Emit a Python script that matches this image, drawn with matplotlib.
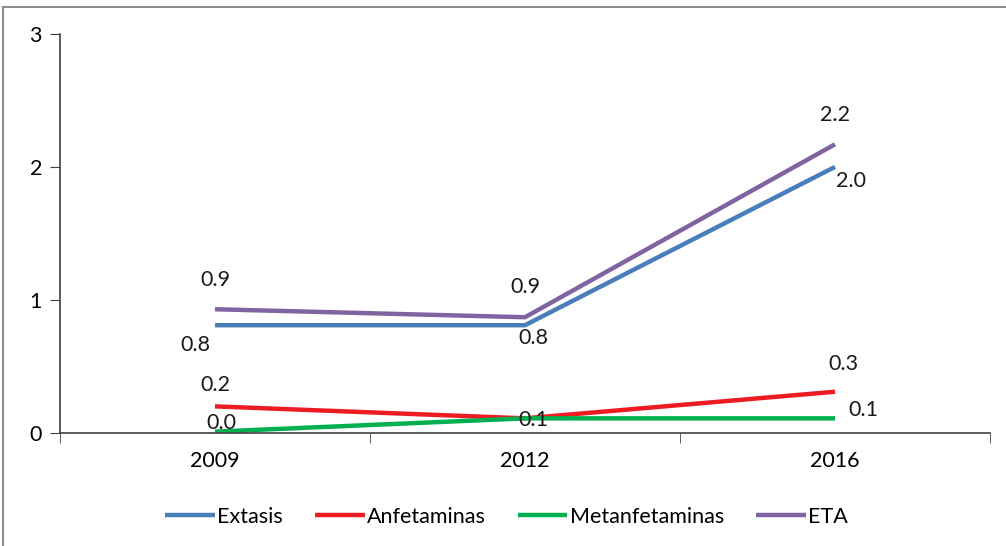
import matplotlib

matplotlib.use("Agg")

import matplotlib.pyplot as plt
from matplotlib.patches import Rectangle

years = ["2009", "2012", "2016"]
extasis = [0.81, 0.81, 2.0]
anfetaminas = [0.2, 0.11, 0.31]
metanfetaminas = [0.01, 0.11, 0.11]
eta = [0.93, 0.87, 2.17]

extasis_labels = ["0.8", "0.8", "2.0"]
anfetaminas_labels = ["0.2", "", "0.3"]
metanfetaminas_labels = ["0.0", "0.1", "0.1"]
eta_labels = ["0.9", "0.9", "2.2"]

plt.rcParams["font.family"] = ["Lato", "DejaVu Sans"]
FS = 15.5

fig = plt.figure(figsize=(10.06, 5.46), dpi=100)
ax = fig.add_axes([0.0596, 0.207, 0.9245, 0.731])

# outer chart frame
fig.patches.append(Rectangle((0.003, -0.1), 1.2, 1.087, transform=fig.transFigure,
                             fill=False, edgecolor="#8c8c8c", linewidth=1.5))

# label offsets in pixels (x right, y up)
series = [
    ("Extasis", extasis, "#4A7EBB", extasis_labels, [(-20, -20), (8, -13), (16, -14)]),
    ("Anfetaminas", anfetaminas, "#ED1C24", anfetaminas_labels, [(0, 21), (0, 0), (8, 28)]),
    ("Metanfetaminas", metanfetaminas, "#00B050", metanfetaminas_labels, [(6, 9), (8, -2), (28, 8)]),
    ("ETA", eta, "#8064A2", eta_labels, [(0, 29), (0, 30), (0, 29)]),
]

x = range(len(years))
for name, vals, color, labels, offsets in series:
    ax.plot(x, vals, color=color, linewidth=3.2, label=name, solid_capstyle="butt")
    for xi, v, lab, off in zip(x, vals, labels, offsets):
        if lab:
            ax.annotate(lab, (xi, v), xytext=off, textcoords="offset pixels",
                        ha="center", va="center", fontsize=FS, color="#1a1a1a")

ax.set_xlim(-0.5, 2.5)
ax.set_ylim(0, 3)
ax.set_yticks([0, 1, 2, 3])
ax.set_xticks(list(x))
ax.set_xticklabels(years)
ax.set_xticks([-0.5, 0.5, 1.5, 2.5], minor=True)
ax.tick_params(axis="x", which="major", length=0, pad=13, labelsize=FS)
ax.tick_params(axis="x", which="minor", length=7, direction="out", color="#404040")
ax.tick_params(axis="y", length=7, direction="out", pad=6, labelsize=FS, color="#404040")
for s in ["top", "right"]:
    ax.spines[s].set_visible(False)
for s in ["left", "bottom"]:
    ax.spines[s].set_color("#404040")
    ax.spines[s].set_linewidth(1.2)

ax.legend(loc="center", bbox_to_anchor=(0.48, -0.21), ncol=4, frameon=False,
          fontsize=FS, handlelength=2.3, handletextpad=0.1, columnspacing=1.5)

plt.savefig("out.png", dpi=100)
plt.close()
